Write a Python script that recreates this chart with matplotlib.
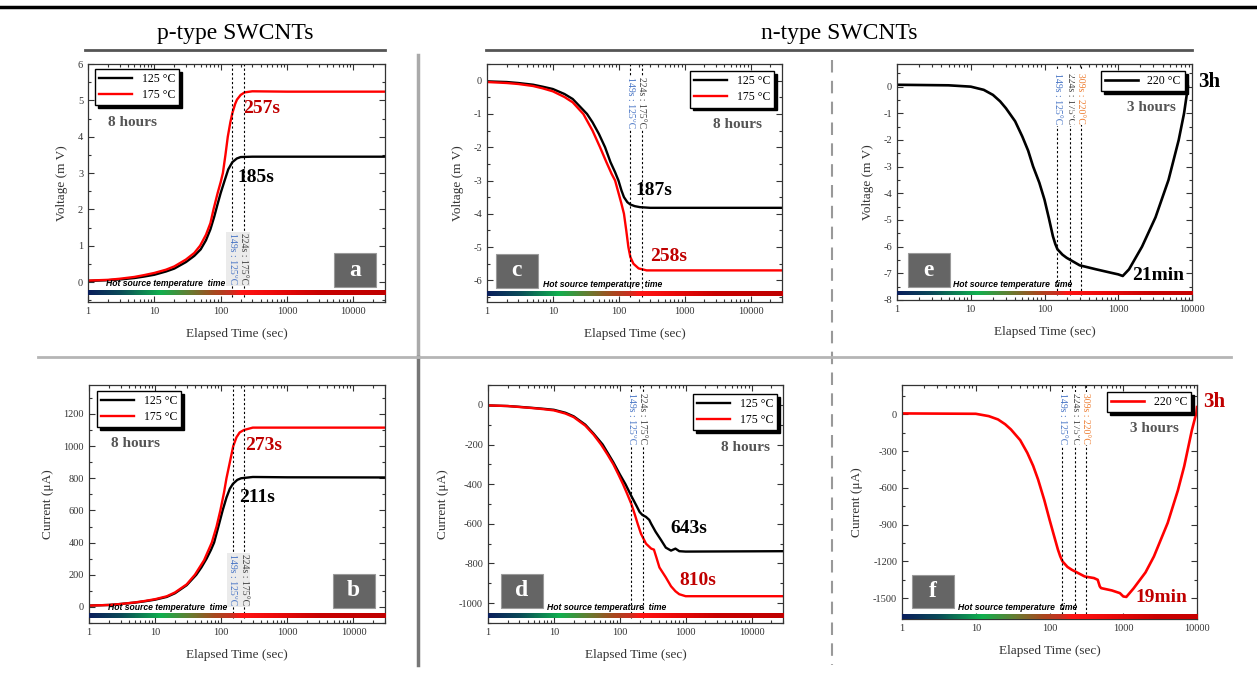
import numpy as np
import matplotlib
matplotlib.use("Agg")
import matplotlib.pyplot as plt
from matplotlib.colors import LinearSegmentedColormap
from matplotlib.lines import Line2D
from matplotlib.patches import Rectangle
from matplotlib.ticker import LogLocator, NullFormatter, FuncFormatter, AutoMinorLocator

plt.rcParams['font.family'] = ['Liberation Serif', 'DejaVu Serif']
plt.rcParams['axes.unicode_minus'] = False

# ---- datos ----
# (a) p-type, voltaje
a_t125 = [1, 2, 3, 5, 7, 10, 15, 20, 30, 40, 50, 60, 70, 80, 90, 100, 115, 130, 150, 175, 200, 300, 1000, 30000]
a_v125 = [0.03, 0.05, 0.07, 0.11, 0.15, 0.2, 0.29, 0.37, 0.55, 0.72, 0.9, 1.15, 1.45, 1.8, 2.15,
          2.45, 2.8, 3.1, 3.3, 3.4, 3.44, 3.45, 3.45, 3.45]
a_t175 = [1, 2, 3, 5, 7, 10, 15, 20, 30, 40, 49, 60, 70, 78, 90, 100, 108, 118, 128, 140, 150, 165,
          176, 200, 230, 300, 1000, 30000]
a_v175 = [0.04, 0.06, 0.09, 0.14, 0.19, 0.25, 0.34, 0.43, 0.62, 0.8, 1.0, 1.3, 1.62, 2.0, 2.45,
          2.75, 3.0, 3.5, 4.0, 4.4, 4.65, 4.9, 5.02, 5.15, 5.22, 5.25, 5.24, 5.24]

# (b) p-type, corriente
b_t125 = [1, 2, 3, 5, 7, 10, 15, 20, 30, 42, 50, 60, 70, 78, 90, 105, 120, 135, 150, 175, 200, 300, 1000, 30000]
b_i125 = [8, 12, 18, 27, 35, 45, 62, 85, 135, 200, 245, 300, 355, 400, 495, 600, 680, 735, 765,
          790, 800, 808, 806, 805]
b_t175 = [1, 2, 3, 5, 7, 10, 15, 20, 30, 40, 55, 72, 85, 97, 110, 120, 135, 152, 170, 190, 220, 300, 1000, 30000]
b_i175 = [8, 12, 18, 28, 37, 48, 66, 90, 140, 200, 290, 400, 500, 600, 710, 800, 900, 1000, 1055,
          1085, 1100, 1115, 1115, 1115]

# (c) n-type, voltaje
c_t125 = [1, 2, 3, 5, 7, 10, 15, 20, 25, 33, 40, 50, 62, 75, 88, 99, 110, 120, 135, 150, 175, 210, 300, 1000, 30000]
c_v125 = [-0.02, -0.04, -0.07, -0.12, -0.18, -0.25, -0.4, -0.55, -0.75, -1.0, -1.25, -1.6, -2.0,
          -2.45, -2.75, -3.0, -3.3, -3.5, -3.65, -3.72, -3.77, -3.8, -3.82, -3.82, -3.82]
c_t175 = [1, 2, 3, 5, 7, 10, 15, 20, 29, 40, 52, 65, 78, 88, 100, 110, 120, 130, 140, 150, 167, 200, 265, 1000, 30000]
c_v175 = [-0.04, -0.07, -0.1, -0.16, -0.23, -0.32, -0.49, -0.65, -1.0, -1.5, -2.0, -2.45, -2.8,
          -3.0, -3.4, -3.7, -4.0, -4.5, -5.0, -5.3, -5.5, -5.64, -5.7, -5.7, -5.7]

# (d) n-type, corriente
d_t125 = [1, 2, 3, 5, 7, 10, 15, 20, 30, 40, 55, 65, 80, 100, 122, 150, 180, 200, 220, 250, 280,
          300, 350, 420, 500, 600, 700, 800, 1000, 30000]
d_i125 = [-3, -6, -10, -16, -20, -25, -40, -58, -100, -145, -200, -240, -290, -350, -400, -460,
          -510, -540, -555, -565, -580, -600, -640, -680, -720, -735, -725, -738, -740, -738]
d_t175 = [1, 2, 3, 5, 7, 10, 15, 20, 30, 40, 52, 65, 80, 95, 112, 130, 150, 170, 187, 210, 250,
          300, 330, 360, 400, 500, 600, 700, 800, 1000, 30000]
d_i175 = [-3, -6, -11, -17, -22, -28, -44, -62, -105, -150, -200, -250, -300, -350, -400, -450,
          -500, -555, -600, -650, -700, -725, -730, -770, -820, -870, -915, -940, -955, -965, -965]

# (e) n-type, voltaje 220 C
e_t220 = [1, 5, 10, 15, 20, 25, 30, 40, 50, 60, 70, 85, 100, 115, 130, 140, 150, 175, 200, 300,
          500, 800, 1000, 1150, 1400, 2100, 3200, 4800, 6600, 7800, 8800]
e_v220 = [0.07, 0.05, 0.0, -0.12, -0.31, -0.55, -0.81, -1.3, -1.87, -2.4, -2.99, -3.6, -4.24,
          -4.95, -5.61, -5.9, -6.1, -6.3, -6.42, -6.7, -6.85, -6.98, -7.04, -7.1, -6.85, -6.0,
          -4.9, -3.5, -2.0, -1.0, 0.0]

# (f) n-type, corriente 220 C
f_t220 = [1, 10, 15, 20, 25, 30, 40, 50, 60, 70, 85, 100, 115, 130, 140, 150, 175, 200, 300, 400,
          450, 480, 500, 700, 900, 1000, 1100, 1380, 2000, 2600, 4000, 5500, 6700, 8500, 9800, 10000]
f_i220 = [8, 5, -14, -41, -80, -123, -210, -314, -420, -532, -700, -859, -990, -1104, -1160, -1200,
          -1245, -1268, -1323, -1336, -1350, -1404, -1418, -1437, -1459, -1486, -1490, -1420,
          -1290, -1160, -886, -620, -423, -130, 14, 60]

# barra de temperatura de la fuente caliente
bar_times = [1, 3, 12, 35, 80, 140, 200, 600, 3000, 30000]
bar_colors = ['#0b1f5c', '#0a4a58', '#10b04e', '#6a7a30', '#a8481e', '#c83020',
              '#ff1414', '#ee0a0a', '#c80000', '#c00000']

marks_t = [149, 224, 309]
marks_txt = ['149s : 125°C', '224s : 175°C', '309s : 220°C']
marks_col = ['#4472c4', '#404040', '#ed7d31']

DARKRED = '#c00000'
GREY = '#555555'

fig = plt.figure(figsize=(12.57, 6.77), dpi=100)


def setup(rect, xmax, ylim, yticks, ylabel):
    ax = fig.add_axes(rect)
    ax.set_xscale('log')
    ax.set_xlim(1, xmax)
    ax.set_ylim(*ylim)
    ax.set_yticks(yticks)
    ax.yaxis.set_minor_locator(AutoMinorLocator(2))
    ax.xaxis.set_major_locator(LogLocator(base=10, numticks=10))
    ax.xaxis.set_minor_locator(LogLocator(base=10, subs=range(2, 10), numticks=20))
    ax.xaxis.set_minor_formatter(NullFormatter())
    ax.xaxis.set_major_formatter(FuncFormatter(lambda v, p: f'{v:g}'))
    ax.tick_params(which='both', direction='in', top=True, right=True, colors='#333333',
                   labelsize=7.5, width=0.8)
    ax.tick_params(which='major', length=4)
    ax.tick_params(which='minor', length=2)
    for s in ax.spines.values():
        s.set_color('#333333')
        s.set_linewidth(0.9)
    ax.set_xlabel('Elapsed Time (sec)', fontsize=9.5, color='#333333', labelpad=9)
    ax.set_ylabel(ylabel, fontsize=9.5, color='#333333', labelpad=7)
    return ax


def add_bar(ax, xmax, yb, txt_x):
    pos = [np.log10(t) / np.log10(xmax) for t in bar_times]
    stops = [(p, c) for p, c in zip(pos, bar_colors) if p <= 1]
    if stops[-1][0] < 1:
        stops.append((1.0, stops[-1][1]))
    cmap = LinearSegmentedColormap.from_list('hot', stops)
    bax = ax.inset_axes([0, yb, 1, 0.021])
    bax.imshow(np.linspace(0, 1, 500)[None, :], aspect='auto', cmap=cmap, extent=[0, 1, 0, 1])
    bax.axis('off')
    ax.text(txt_x, yb + 0.026, 'Hot source temperature  time', transform=ax.transAxes,
            fontsize=6.2, fontstyle='italic', fontweight='bold', family='Liberation Sans',
            va='bottom', ha='left')


def add_marks(ax, n, ytop, bg):
    tr = ax.get_xaxis_transform()
    for t, s, c in zip(marks_t[:n], marks_txt[:n], marks_col[:n]):
        ax.plot([t, t], [0.02, 1], transform=tr, color='black', lw=0.8,
                ls=(0, (2, 2)), zorder=2)
        ax.text(t, ytop, s, transform=tr, rotation=270, ha='center', va='top', fontsize=7,
                color=c, zorder=4,
                bbox=dict(boxstyle='square,pad=0.15', fc=bg, ec='none'))


def add_letter(ax, letter, x0, y0):
    ax.add_patch(Rectangle((x0, y0), 0.141, 0.143, transform=ax.transAxes,
                           fc='#656565', ec='#9a9a9a', lw=0.8, zorder=5))
    ax.text(x0 + 0.0705, y0 + 0.0715, letter, transform=ax.transAxes, color='white',
            fontsize=17, fontweight='bold', ha='center', va='center', zorder=6)


def add_legend(ax, loc, anchor):
    leg = ax.legend(loc=loc, bbox_to_anchor=anchor, borderaxespad=0, fancybox=False,
                    shadow={'color': 'black', 'alpha': 1}, edgecolor='black', fontsize=8.5,
                    handlelength=2.8, framealpha=1, borderpad=0.35, labelspacing=0.35)
    leg.get_frame().set_linewidth(1.0)


def note(ax, x, y, s, color, size=14):
    ax.text(x, y, s, color=color, fontsize=size, fontweight='bold', ha='left', va='center')


# ---- (a) ----
ax = setup([0.0700, 0.5539, 0.2363, 0.3515], 30000, (-0.55, 6.0), range(0, 7), 'Voltage (m V)')
ax.plot(a_t125, a_v125, color='black', lw=1.7, label='125 °C')
ax.plot(a_t175, a_v175, color='#ff0000', lw=1.7, label='175 °C')
add_bar(ax, 30000, 0.031, 0.06)
add_marks(ax, 2, 0.29, '#ebebeb')
add_letter(ax, 'a', 0.828, 0.063)
add_legend(ax, 'upper left', (0.024, 0.98))
note(ax, 215, 4.79, '257s', DARKRED)
note(ax, 177, 2.87, '185s', 'black')
note(ax, 2.0, 4.4, '8 hours', GREY, 11)

# ---- (b) ----
ax = setup([0.0708, 0.0798, 0.2355, 0.3515], 30000, (-100, 1380), range(0, 1201, 200), 'Current (μA)')
ax.plot(b_t125, b_i125, color='black', lw=1.7, label='125 °C')
ax.plot(b_t175, b_i175, color='#ff0000', lw=1.7, label='175 °C')
add_bar(ax, 30000, 0.019, 0.065)
add_marks(ax, 2, 0.29, '#ebebeb')
add_letter(ax, 'b', 0.824, 0.063)
add_legend(ax, 'upper left', (0.027, 0.975))
note(ax, 230, 1006, '273s', DARKRED)
note(ax, 187, 683, '211s', 'black')
note(ax, 2.15, 1018, '8 hours', GREY, 11)

# ---- (c) ----
ax = setup([0.3874, 0.5539, 0.2347, 0.3515], 30000, (-6.65, 0.5), range(0, -7, -1), 'Voltage (m V)')
ax.plot(c_t125, c_v125, color='black', lw=1.7, label='125 °C')
ax.plot(c_t175, c_v175, color='#ff0000', lw=1.7, label='175 °C')
add_bar(ax, 30000, 0.027, 0.19)
add_marks(ax, 2, 0.945, 'white')
add_letter(ax, 'c', 0.031, 0.059)
add_legend(ax, 'upper right', (0.973, 0.97))
note(ax, 180, -3.31, '187s', 'black')
note(ax, 295, -5.27, '258s', DARKRED)
note(ax, 2660, -1.33, '8 hours', GREY, 11)

# ---- (d) ----
ax = setup([0.3882, 0.0798, 0.2347, 0.3515], 30000, (-1100, 100), range(0, -1001, -200), 'Current (μA)')
ax.plot(d_t125, d_i125, color='black', lw=1.7, label='125 °C')
ax.plot(d_t175, d_i175, color='#ff0000', lw=1.7, label='175 °C')
add_bar(ax, 30000, 0.02, 0.2)
add_marks(ax, 2, 0.966, 'white')
add_letter(ax, 'd', 0.044, 0.063)
add_legend(ax, 'upper right', (0.98, 0.962))
note(ax, 590, -626, '643s', 'black')
note(ax, 810, -884, '810s', DARKRED)
note(ax, 3460, -217, '8 hours', GREY, 11)

# ---- (e) ----
ax = setup([0.7136, 0.5569, 0.2347, 0.3486], 10000, (-8, 0.85), range(0, -9, -1), 'Voltage (m V)')
ax.plot(e_t220, e_v220, color='black', lw=1.9, label='220 °C')
add_bar(ax, 10000, 0.019, 0.19)
add_marks(ax, 3, 0.962, 'white')
add_letter(ax, 'e', 0.037, 0.055)
add_legend(ax, 'upper right', (0.976, 0.97))
note(ax, 1320, -0.79, '3 hours', GREY, 11)
note(ax, 1550, -7.1, '21min', 'black')
ax.text(1.02, 0.924, '3h', transform=ax.transAxes, fontsize=15, fontweight='bold',
        color='black', ha='left', va='center')

# ---- (f) ----
ax = setup([0.7176, 0.0857, 0.2347, 0.3456], 10000, (-1670, 240), range(0, -1501, -300), 'Current (μA)')
ax.plot(f_t220, f_i220, color='#ff0000', lw=1.9, label='220 °C')
add_bar(ax, 10000, 0.002, 0.19)
add_marks(ax, 3, 0.966, 'white')
add_letter(ax, 'f', 0.034, 0.047)
add_legend(ax, 'upper right', (0.98, 0.97))
note(ax, 1230, -115, '3 hours', GREY, 11)
note(ax, 1440, -1492, '19min', DARKRED)
ax.text(1.02, 0.927, '3h', transform=ax.transAxes, fontsize=15, fontweight='bold',
        color=DARKRED, ha='left', va='center')

# ---- encabezados y separadores ----
fig.add_artist(Line2D([0, 1], [0.9897, 0.9897], color='black', lw=2.5))
fig.text(0.187, 0.951, 'p-type SWCNTs', fontsize=17, ha='center', va='center')
fig.text(0.668, 0.951, 'n-type SWCNTs', fontsize=17, ha='center', va='center')
fig.add_artist(Line2D([0.0676, 0.306], [0.926, 0.926], color='#555555', lw=2))
fig.add_artist(Line2D([0.387, 0.948], [0.926, 0.926], color='#555555', lw=2))
fig.add_artist(Line2D([0.3325, 0.3325], [0.919, 0.4727], color='#aaaaaa', lw=2.5))
fig.add_artist(Line2D([0.3325, 0.3325], [0.4727, 0.018], color='#777777', lw=2.5))
fig.add_artist(Line2D([0.662, 0.662], [0.911, 0.018], color='#999999', lw=1.5, ls=(0, (6, 4))))
fig.add_artist(Line2D([0.03, 0.979], [0.4727, 0.4727], color='#b5b5b5', lw=2))

fig.savefig('out.png', dpi=100)
